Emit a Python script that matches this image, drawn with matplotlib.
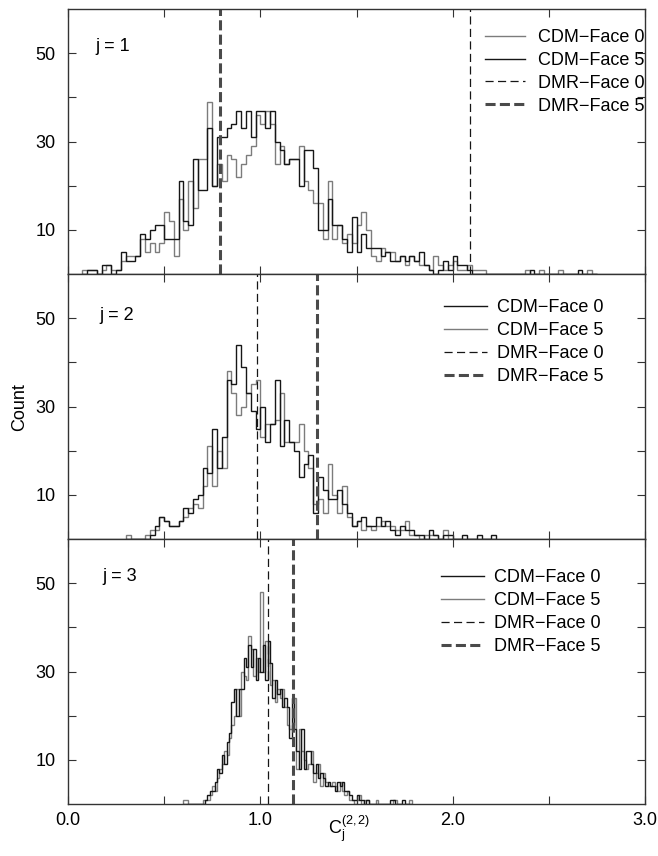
import numpy as np
import matplotlib
matplotlib.use("Agg")
import matplotlib.pyplot as plt
from matplotlib.lines import Line2D

plt.rcParams['font.family'] = ['Liberation Sans', 'DejaVu Sans']
plt.rcParams['mathtext.fontset'] = 'custom'
plt.rcParams['mathtext.rm'] = 'Liberation Sans'
plt.rcParams['mathtext.it'] = 'Liberation Sans'

# ---------------- data ----------------
panel_labels = ["j = 1", "j = 2", "j = 3"]
series_labels = ["CDM\u2212Face 0", "CDM\u2212Face 5", "DMR\u2212Face 0", "DMR\u2212Face 5"]

# j = 1 : bins of width 0.025 starting at 0.075
j1_start, j1_width = 0.075, 0.025
j1_face0 = [0, 1, 1, 0, 2, 2, 0, 1, 5, 3, 3, 4, 9, 8, 10, 11, 11, 8, 8, 8,
            21, 12, 11, 26, 19, 19, 33, 20, 31, 31, 33, 34, 37, 33, 37, 31, 37, 37, 33, 37,
            30, 28, 25, 26, 26, 20, 28, 28, 24, 10, 10, 17, 11, 11, 8, 5, 13, 5, 9, 6,
            6, 6, 4, 5, 3, 3, 4, 3, 4, 3, 5, 2, 1, 0, 1, 3, 1, 4, 2, 2,
            1, 0, 0, 0, 0, 0, 0, 0, 0, 0, 0, 0, 0, 1, 0, 0, 0, 0, 0, 0,
            0, 0, 0, 1, 0, 0, 0]
j1_face5 = [1, 1, 1, 0, 1, 2, 1, 1, 3, 4, 4, 4, 8, 5, 7, 5, 7, 14, 12, 4,
            17, 10, 21, 15, 26, 26, 39, 20, 25, 21, 27, 26, 22, 25, 27, 29, 36, 34, 37, 34,
            25, 29, 25, 26, 26, 29, 21, 19, 16, 16, 8, 21, 8, 11, 7, 9, 7, 11, 14, 10,
            4, 3, 6, 5, 5, 3, 4, 2, 4, 3, 2, 2, 1, 4, 2, 1, 2, 3, 1, 1,
            2, 1, 1, 1, 0, 0, 0, 0, 0, 0, 0, 0, 1, 0, 0, 1, 0, 0, 0, 1,
            0, 0, 0, 0, 0, 1, 0]

# j = 2 : bins of width 0.025 starting at 0.300
j2_start, j2_width = 0.300, 0.025
j2_face0 = [0, 0, 0, 0, 0, 1, 3, 5, 4, 3, 3, 4, 7, 6, 9, 10, 16, 15, 25, 16,
            23, 36, 35, 44, 39, 33, 29, 25, 30, 22, 26, 36, 21, 27, 22, 20, 14, 17, 19, 6,
            14, 11, 9, 9, 11, 8, 6, 3, 4, 5, 3, 3, 5, 3, 4, 2, 1, 3, 2, 2,
            1, 1, 0, 2, 1, 0, 1, 1, 0, 0, 1, 0, 0, 1, 0, 0, 1]
j2_face5 = [1, 0, 0, 0, 1, 2, 2, 5, 4, 3, 3, 4, 5, 7, 8, 7, 12, 21, 12, 20,
            16, 38, 33, 28, 30, 33, 35, 36, 23, 26, 26, 27, 33, 22, 22, 22, 26, 20, 16, 8,
            9, 6, 17, 10, 6, 12, 5, 3, 4, 2, 3, 2, 3, 4, 3, 3, 2, 2, 4, 1,
            1, 0, 1, 1, 1, 0, 2, 0, 0, 0, 0, 0, 0, 0, 0, 0, 0]

# j = 3 : bins of width 0.0125 starting at 0.600
j3_start, j3_width = 0.600, 0.0125
j3_face0 = [0, 0, 0, 0, 0, 0, 0, 0, 0, 1, 2, 3, 3, 5, 8, 7, 11, 9, 14, 16,
            23, 26, 20, 26, 26, 33, 31, 36, 31, 35, 28, 33, 30, 36, 28, 37, 32, 24, 28, 25,
            26, 22, 24, 22, 15, 24, 17, 12, 8, 17, 8, 12, 12, 9, 7, 9, 6, 7, 6, 4,
            5, 4, 4, 3, 5, 4, 5, 3, 3, 2, 1, 1, 2, 1, 1, 0, 1, 0, 0, 0,
            0, 0, 0, 0, 0, 0, 1, 1, 0, 0, 0, 1, 0, 0, 0]
j3_face5 = [1, 1, 0, 0, 0, 0, 0, 0, 1, 1, 1, 2, 4, 3, 6, 8, 9, 12, 11, 15,
            18, 20, 26, 20, 30, 29, 28, 38, 35, 29, 33, 30, 48, 30, 37, 32, 27, 28, 23, 26,
            24, 26, 22, 18, 17, 18, 24, 8, 17, 12, 10, 8, 9, 12, 5, 7, 9, 4, 7, 5,
            4, 4, 5, 4, 3, 5, 3, 2, 3, 1, 1, 0, 1, 2, 0, 1, 1, 0, 0, 0,
            1, 0, 0, 0, 0, 0, 0, 1, 1, 0, 0, 0, 0, 0, 1]

dmr_face0 = [2.09, 0.985, 1.042]
dmr_face5 = [0.79, 1.297, 1.172]

x_ticks = [0.0, 1.0, 2.0, 3.0]
x_ticklabels = ["0.0", "1.0", "2.0", "3.0"]
y_ticks = [10, 30, 50]

panels = [
    (j1_start, j1_width, j1_face0, j1_face5),
    (j2_start, j2_width, j2_face0, j2_face5),
    (j3_start, j3_width, j3_face0, j3_face5),
]

# ---------------- style ----------------
BLACK = "#161616"
GRAY = "#7c7c7c"
DARK = "#4a4a4a"
FS = 13

fig = plt.figure(figsize=(6.58, 8.56), dpi=100)
left, right = 68 / 658, 645 / 658
tops_px = [9, 274, 539]
height = 265 / 856

leg_anchor = [(1.0, 0.925), (0.928, 0.905), (0.923, 0.886)]
leg_cdm_colors = [(GRAY, BLACK), (BLACK, GRAY), (BLACK, GRAY)]
leg_handlelen = [2.2, 2.4, 2.4]
leg_textpad = [0.75, 0.55, 0.55]
label_pos = [(0.14, 51.6), (0.165, 50.5), (0.18, 51.6)]

for k, (start, width, c0, c5) in enumerate(panels):
    bottom = 1 - (tops_px[k] + 265) / 856
    ax = fig.add_axes([left, bottom, right - left, height])
    edges0 = start + width * np.arange(len(c0) + 1)
    edges5 = start + width * np.arange(len(c5) + 1)
    ax.stairs(c5, edges5, baseline=0, color=GRAY, lw=1.0)
    ax.stairs(c0, edges0, baseline=0, color=BLACK, lw=1.0)

    ax.axvline(dmr_face0[k], color=BLACK, lw=0.9, dashes=(6.5, 3.5))
    ax.axvline(dmr_face5[k], color=DARK, lw=2.2, dashes=(3.3, 1.4))

    ax.set_xlim(0, 3)
    ax.set_ylim(0, 60)
    ax.set_xticks(x_ticks)
    ax.set_xticks(np.arange(0, 3.01, 0.5), minor=True)
    ax.set_yticks(y_ticks)
    ax.set_yticks([20, 40], minor=True)
    ax.tick_params(which='both', direction='in', top=True, right=True,
                   length=5.5, width=0.8, color='#333333', labelsize=FS)
    ax.tick_params(axis='y', pad=9)
    ax.tick_params(axis='x', pad=6)
    if k < 2:
        ax.set_xticklabels([])
    else:
        ax.set_xticklabels(x_ticklabels)
    for sp in ax.spines.values():
        sp.set_linewidth(1.0)
        sp.set_color('#333333')

    ax.text(label_pos[k][0], label_pos[k][1], panel_labels[k], fontsize=FS,
            ha='left', va='center')

    col_a, col_b = leg_cdm_colors[k]
    handles = [
        Line2D([], [], color=col_a, lw=1.0),
        Line2D([], [], color=col_b, lw=1.0),
        Line2D([], [], color=BLACK, lw=0.9, dashes=(6.5, 3.5)),
        Line2D([], [], color=DARK, lw=2.2, dashes=(3.3, 1.4)),
    ]
    ax.legend(handles, series_labels, loc='upper right',
              bbox_to_anchor=leg_anchor[k], bbox_transform=ax.transAxes,
              frameon=False, fontsize=FS, borderpad=0, borderaxespad=0,
              handlelength=leg_handlelen[k], handletextpad=leg_textpad[k],
              labelspacing=0.33)

fig.text(20 / 658, 1 - 407 / 856, "Count", rotation=90, ha='center', va='center',
         fontsize=FS)
fig.text(349 / 658, 1 - 829 / 856, r"$\mathregular{C_j^{(2,2)}}$", ha='center',
         va='center', fontsize=FS)

fig.savefig("out.png", dpi=100)
